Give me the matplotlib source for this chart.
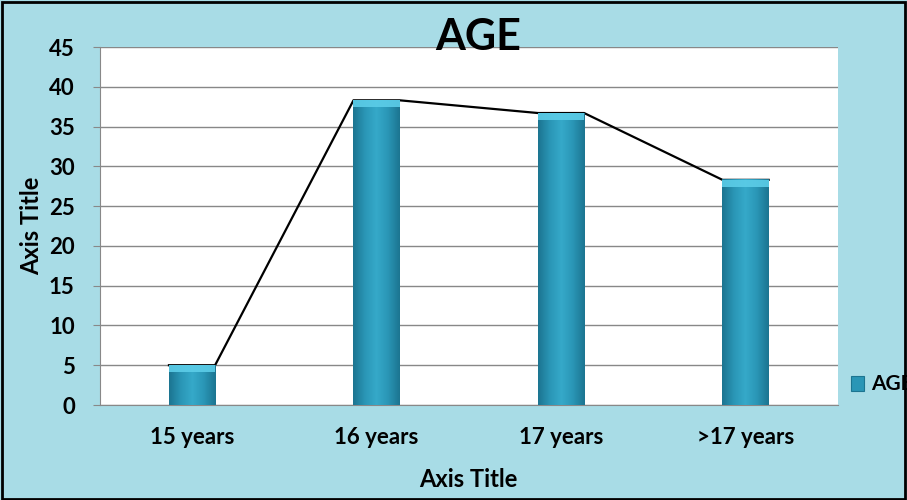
import numpy as np
import matplotlib.pyplot as plt
from matplotlib.colors import LinearSegmentedColormap
from matplotlib.patches import Rectangle

categories = ['15 years', '16 years', '17 years', '>17 years']
age_values = [5.0, 38.3, 36.7, 28.3]
y_ticks = [0, 5, 10, 15, 20, 25, 30, 35, 40, 45]

plt.rcParams['font.family'] = ['Lato', 'DejaVu Sans']
plt.rcParams['font.weight'] = 'bold'

bg = '#a8dce6'
fig = plt.figure(figsize=(9.07, 5.0), dpi=100, facecolor=bg)
ax = fig.add_axes([0.110, 0.19, 0.8137, 0.716])
ax.set_facecolor('white')

x = np.arange(len(categories))
w = 0.25

# cylinder-like shading for each bar
shade = LinearSegmentedColormap.from_list(
    'bar', ['#1c7591', '#2a96b6', '#36a9c9', '#2a96b6', '#1c7591'])
grad = np.linspace(0, 1, 64).reshape(1, -1)
bars = ax.bar(x, age_values, width=w, color='none', zorder=3)
for b in bars:
    x0, h = b.get_x(), b.get_height()
    ax.imshow(grad, cmap=shade, aspect='auto', zorder=3,
              extent=[x0, x0 + w, 0, h])
    # lighter bevel at the top of the bar
    cap = min(0.9, h * 0.25)
    ax.add_patch(Rectangle((x0, h - cap), w, cap, facecolor='#5ccde8',
                           edgecolor='none', alpha=0.9, zorder=4))

# line joining the bar tops
lx, ly = [], []
for xi, v in zip(x, age_values):
    lx += [xi - w / 2, xi + w / 2]
    ly += [v, v]
ax.plot(lx, ly, color='black', lw=1.6, zorder=2)

ax.set_xlim(-0.5, len(categories) - 0.5)
ax.set_ylim(0, 45)
ax.set_yticks(y_ticks)
ax.set_xticks(x)
ax.set_xticklabels(categories)
ax.tick_params(axis='x', labelsize=16, length=0, pad=16)
ax.tick_params(axis='y', labelsize=16, length=5, color='#888888', pad=13)
ax.yaxis.grid(True, color='#888888', lw=1)
ax.set_axisbelow(True)
for s in ['top', 'right']:
    ax.spines[s].set_visible(False)
for s in ['left', 'bottom']:
    ax.spines[s].set_color('#888888')

ax.set_ylabel('Axis Title', fontsize=17, fontweight='bold', labelpad=4)
ax.set_xlabel('Axis Title', fontsize=17, fontweight='bold', labelpad=14)
fig.text(0.527, 0.90, 'AGE', fontsize=31, fontweight='bold', ha='center')

# legend entry sitting at the right edge
fig.patches.append(Rectangle((0.938, 0.219), 0.015, 0.029, transform=fig.transFigure,
                             facecolor='#2a96b6', edgecolor='#1c7591', lw=0.8))
fig.text(0.960, 0.233, 'AGE', fontsize=15, fontweight='bold', va='center')

fig.patches.append(Rectangle((0.002, 0.003), 0.996, 0.993, transform=fig.transFigure,
                             facecolor='none', edgecolor='black', lw=2))

fig.savefig('out.png', dpi=100, facecolor=bg)
